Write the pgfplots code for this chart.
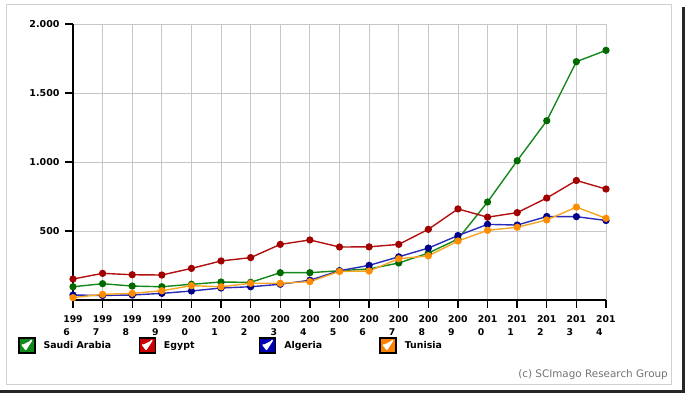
\documentclass[border=0pt]{standalone}
\usepackage{pgfplots}
\pgfplotsset{compat=1.18}
\usepackage{fontspec}
\setmainfont{DejaVu Sans}
\definecolor{lgreen}{HTML}{14881A}
\definecolor{mgreen}{HTML}{006A00}
\definecolor{lred}{HTML}{B31010}
\definecolor{mred}{HTML}{A00000}
\definecolor{lblue}{HTML}{2A2AB8}
\definecolor{mblue}{HTML}{00008B}
\definecolor{lorange}{HTML}{F5A623}
\definecolor{morange}{HTML}{FF8C00}
\definecolor{sqgreen}{HTML}{0F8A1A}
\definecolor{sqred}{HTML}{CC0000}
\definecolor{sqblue}{HTML}{0000B3}
\definecolor{sqorange}{HTML}{FF8000}
\begin{document}
\begin{tikzpicture}
\draw[black!18, line width=1pt] (-66pt,-85pt) rectangle (598pt,295pt);
\draw[black!85, line width=3pt] (610pt,293pt) -- (610pt,-92pt) -- (-73pt,-92pt);
\begin{axis}[
  scale only axis, width=533pt, height=276pt,
  xmin=1996, xmax=2014, ymin=0, ymax=2000,
  axis x line*=bottom, axis y line*=left,
  axis line style={line width=2pt, black},
  xtick={1996,...,2014},
  xticklabels={{199\\6},{199\\7},{199\\8},{199\\9},{200\\0},{200\\1},{200\\2},{200\\3},{200\\4},{200\\5},{200\\6},{200\\7},{200\\8},{200\\9},{201\\0},{201\\1},{201\\2},{201\\3},{201\\4}},
  ytick={500,1000,1500,2000},
  yticklabels={500,1.000,1.500,2.000},
  xticklabel style={align=left, font=\fontsize{9.3}{13.5}\selectfont\bfseries, yshift=-4pt},
  yticklabel style={font=\fontsize{9.5}{11}\selectfont\bfseries, xshift=-2pt},
  grid=major, grid style={black!22, line width=0.8pt},
  tick align=outside, major tick length=8pt,
  tick style={black, line width=1.3pt},
  clip=false,
  every axis plot/.append style={line width=1.4pt, mark=*, mark size=2.9pt},
  legend columns=4,
  legend cell align=left,
  legend image code/.code={
    \fill[#1] (0pt,-7.5pt) rectangle (16pt,7.5pt);
    \draw[white, line width=1.7pt, line join=round, line cap=round] (3.5pt,0.5pt) -- (6.8pt,-3.8pt) -- (12.5pt,5pt);
  },
  legend style={at={(-0.1032,-0.1341)}, anchor=north west, draw=none, fill=none,
    inner sep=0pt, font=\fontsize{9.4}{11}\selectfont\bfseries,
    nodes={inner xsep=8pt, inner ysep=0pt}},
]
\addplot[lgreen, mark options={fill=mgreen, draw=mgreen}, forget plot] coordinates {
(1996,96) (1997,118) (1998,101) (1999,96) (2000,114) (2001,130) (2002,128) (2003,198) (2004,198) (2005,212) (2006,225) (2007,268) (2008,340) (2009,442) (2010,710) (2011,1009) (2012,1299) (2013,1727) (2014,1809)};
\addplot[lred, mark options={fill=mred, draw=mred}, forget plot] coordinates {
(1996,152) (1997,193) (1998,183) (1999,181) (2000,229) (2001,283) (2002,307) (2003,403) (2004,435) (2005,384) (2006,385) (2007,403) (2008,512) (2009,660) (2010,600) (2011,633) (2012,739) (2013,866) (2014,804)};
\addplot[lblue, mark options={fill=mblue, draw=mblue}, forget plot] coordinates {
(1996,36) (1997,33) (1998,36) (1999,48) (2000,65) (2001,87) (2002,96) (2003,114) (2004,143) (2005,212) (2006,251) (2007,313) (2008,376) (2009,467) (2010,548) (2011,543) (2012,605) (2013,604) (2014,576)};
\addplot[lorange, mark options={fill=morange, draw=morange}, forget plot] coordinates {
(1996,17) (1997,41) (1998,48) (1999,67) (2000,104) (2001,96) (2002,121) (2003,121) (2004,133) (2005,207) (2006,210) (2007,299) (2008,320) (2009,427) (2010,505) (2011,527) (2012,580) (2013,673) (2014,592)};
\addlegendimage{fill=sqgreen}
\addlegendentry{\makebox[87pt][l]{Saudi Arabia}}
\addlegendimage{fill=sqred}
\addlegendentry{\makebox[87pt][l]{Egypt}}
\addlegendimage{fill=sqblue}
\addlegendentry{\makebox[87pt][l]{Algeria}}
\addlegendimage{fill=sqorange}
\addlegendentry{\makebox[87pt][l]{Tunisia}}
\end{axis}
\node[anchor=base east, text=black!55, font=\fontsize{10.4}{12}\selectfont, inner sep=0pt] at (595pt,-78pt) {(c) SCImago Research Group};
\pgfresetboundingbox
\useasboundingbox (-73pt,-95pt) rectangle (613pt,300pt);
\end{tikzpicture}
\end{document}
